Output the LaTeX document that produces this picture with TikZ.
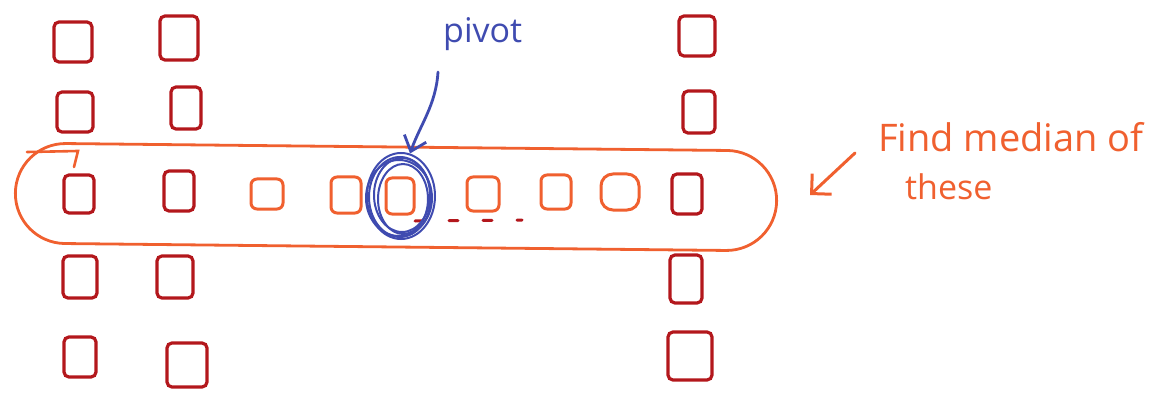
\documentclass[tikz,border=0pt]{standalone}
\usepackage{fontspec}
\setmainfont{Open Sans}
\usetikzlibrary{shapes.misc,shapes.geometric,arrows.meta}
\definecolor{dred}{HTML}{B3171C}
\definecolor{orng}{HTML}{F0602F}
\definecolor{blu}{HTML}{3F4BB0}
\begin{document}
\begin{tikzpicture}[x=1pt,y=-1pt,
  sz/.style 2 args={minimum width=#1pt,minimum height=#2pt},
  rbox/.style={draw=dred,line width=3.2pt,rounded corners=5pt,inner sep=0pt},
  obox/.style={draw=orng,line width=3pt,rounded corners=6pt,inner sep=0pt},
  ring/.style={draw=blu,line width=2pt},
  hand/.style={font=\fontsize{34}{40}\selectfont,inner sep=0pt}]
\useasboundingbox (0,0) rectangle (1168,393);
% dark red columns
\node[rbox,sz={38}{40}] (r1a) at (73,42) {};
\node[rbox,sz={38}{44}] (r1b) at (179,38) {};
\node[rbox,sz={36}{40}] (r1c) at (697,36) {};
\node[rbox,sz={36}{40}] (r2a) at (75,112) {};
\node[rbox,sz={30}{42}] (r2b) at (186,108) {};
\node[rbox,sz={32}{42}] (r2c) at (699,112) {};
\node[rbox,sz={30}{38}] (r3a) at (79,194) {};
\node[rbox,sz={30}{40}] (r3b) at (179,191) {};
\node[rbox,sz={30}{40}] (r3c) at (687,194) {};
\node[rbox,sz={34}{42}] (r4a) at (80,277) {};
\node[rbox,sz={36}{42}] (r4b) at (175,277) {};
\node[rbox,sz={32}{48}] (r4c) at (686,279) {};
\node[rbox,sz={32}{40}] (r5a) at (80,357) {};
\node[rbox,sz={40}{44}] (r5b) at (187,365) {};
\node[rbox,sz={44}{48}] (r5c) at (690,356) {};
% orange boxes in the middle row
\node[obox,sz={32}{30}] (o1) at (267,194) {};
\node[obox,sz={30}{36}] (o2) at (346,195) {};
\node[obox,sz={28}{36}] (pv) at (400,196) {};
\node[obox,sz={32}{34}] (o4) at (483,194) {};
\node[obox,sz={30}{34}] (o5) at (556,192) {};
\node[obox,sz={38}{36},rounded corners=12pt] (o6) at (620,192) {};
% dashes
\draw[dred,line width=3pt,dash pattern=on 9pt off 25pt,line cap=round] (415,221) -- (522,220);
% the group outline
\node[rounded rectangle,draw=orng,line width=2.8pt,sz={768}{100},rotate=-0.6] (group) at (396,197) {};
\draw[orng,line width=2.6pt,line cap=round] (27,152) -- (78,151) -- (74,167);
% pivot rings
\node[ellipse,ring,sz={68}{86}] (ringn) at (401,196) {};
\draw[ring] (400,197) ellipse (31pt and 40pt);
\draw[ring] (402,195) ellipse (28pt and 37pt);
\draw[ring] (399,198) ellipse (33pt and 38pt);
\draw[ring] (403,199) ellipse (25pt and 35pt);
% labels
\node[hand,text=blu,anchor=base west] (plabel) at (443,43) {pivot};
\node[hand,text=orng,anchor=base west,font=\fontsize{38}{44}\selectfont] (flabel) at (878,152) {Find median of};
\node[hand,text=orng,anchor=base west] (tlabel) at (905,200) {these};
% arrows
\coordinate (pa) at (438,72);
\coordinate (fa) at (855,153);
\coordinate (fb) at (810,195);
\draw[blu,line width=2.8pt,line cap=round,-{Straight Barb[angle=80:18pt]}]
  (pa) .. controls (436,105) and (420,125) .. (ringn.78);
\draw[orng,line width=3pt,line cap=round,-{Straight Barb[angle=90:20pt]}] (fa) -- (fb);
\end{tikzpicture}
\end{document}
